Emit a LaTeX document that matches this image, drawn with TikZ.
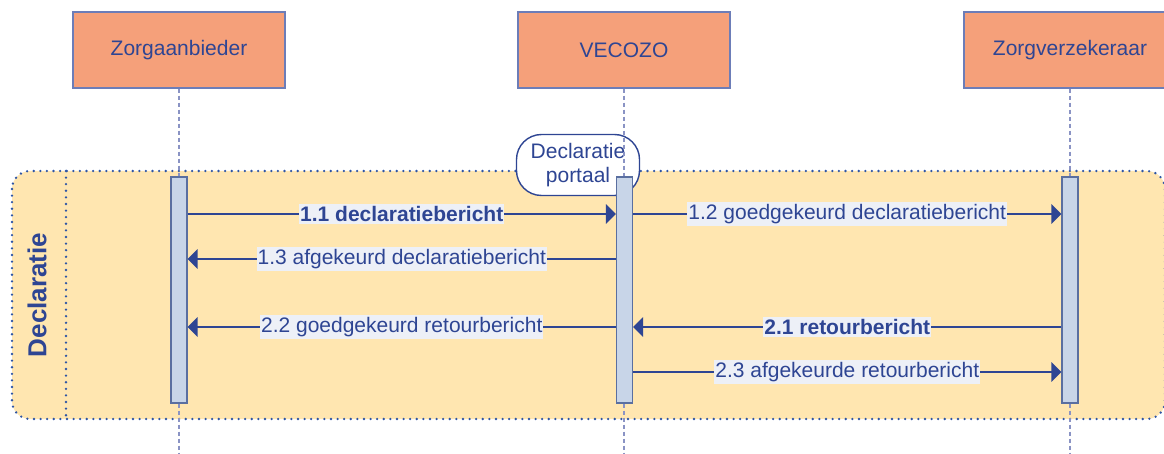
\documentclass[tikz,border=0pt]{standalone}
\usepackage{fontspec}
\setmainfont{Liberation Sans}
\usetikzlibrary{arrows.meta,positioning,calc}
\definecolor{vzblue}{HTML}{2E4593}
\definecolor{salmon}{HTML}{F5A07A}
\definecolor{actorline}{HTML}{6C7DB8}
\definecolor{phasefill}{HTML}{FFE6B0}
\definecolor{dotblue}{HTML}{2E55A5}
\definecolor{barfill}{HTML}{C8D5E8}
\definecolor{barline}{HTML}{5A6FA0}
\definecolor{lblfill}{HTML}{EDF0F7}
\definecolor{lifeline}{HTML}{8A93C4}

\begin{document}
\begin{tikzpicture}[x=1pt,y=-1pt,
  actor/.style={draw=actorline,fill=salmon,line width=1.1pt,minimum width=212pt,
    minimum height=76pt,inner sep=0pt,text=vzblue,font=\fontsize{21}{24}\selectfont},
  lifeln/.style={draw=lifeline,line width=1.5pt,dash pattern=on 4pt off 3pt},
  actbar/.style={draw=barline,fill=barfill,line width=1.1pt,minimum width=16pt,
    minimum height=226pt,inner sep=0pt},
  dots/.style={draw=dotblue,line width=2.6pt,line cap=round,dash pattern=on 0pt off 6.6pt},
  msg/.style={draw=vzblue,line width=2.6pt,-{Triangle[length=10pt,width=19pt]}},
  msglbl/.style={fill=lblfill,text=vzblue,inner xsep=1pt,inner ysep=2.5pt,
    font=\fontsize{21}{24}\selectfont}
  ]
  \useasboundingbox (0,0) rectangle (1164,454);
  \clip (0,0) rectangle (1164,454);

  % fase Declaratie
  \draw[dots,fill=phasefill,rounded corners=18pt] (12,171) rectangle (1165,419);
  \draw[dots] (66,171) -- (66,419);
  \node[rotate=90,text=vzblue,font=\fontsize{26}{30}\selectfont\bfseries] (fase) at (37,295) {Declaratie};

  \node[actor] (za) at (179,50) {Zorgaanbieder};
  \node[actor] (vec) at (624,50) {VECOZO};
  \node[actor] (zv) at (1070,50) {Zorgverzekeraar};

  \node[draw=vzblue,fill=white,line width=1.4pt,rounded corners=25pt,minimum width=123pt,
    minimum height=61pt,align=center,text=vzblue,font=\fontsize{21}{24}\selectfont]
    (portaal) at (578,165) {Declaratie\\portaal};

  \coordinate (zaend) at (179,454);
  \coordinate (vecend) at (624,454);
  \coordinate (zvend) at (1070,454);
  \draw[lifeln] (za.south) -- (zaend);
  \draw[lifeln] (vec.south) -- (vecend);
  \draw[lifeln] (zv.south) -- (zvend);

  \node[actbar] (barza) at (179,290) {};
  \node[actbar] (barvec) at (624.5,290) {};
  \node[actbar] (barzv) at (1070,290) {};

  \coordinate (r1) at (0,214);
  \coordinate (r2) at (0,259);
  \coordinate (r3) at (0,327);
  \coordinate (r4) at (0,372);

  \draw[msg] (barza.east |- r1) -- node[msglbl,font=\fontsize{21}{24}\selectfont\bfseries] {1.1 declaratiebericht} (barvec.west |- r1);
  \draw[msg] (barvec.east |- r1) -- node[msglbl] {1.2 goedgekeurd declaratiebericht} (barzv.west |- r1);
  \draw[msg] (barvec.west |- r2) -- node[msglbl] {1.3 afgekeurd declaratiebericht} (barza.east |- r2);
  \draw[msg] (barzv.west |- r3) -- node[msglbl,font=\fontsize{21}{24}\selectfont\bfseries] {2.1 retourbericht} (barvec.east |- r3);
  \draw[msg] (barvec.west |- r3) -- node[msglbl] {2.2 goedgekeurd retourbericht} (barza.east |- r3);
  \draw[msg] (barvec.east |- r4) -- node[msglbl] {2.3 afgekeurde retourbericht} (barzv.west |- r4);
\end{tikzpicture}
\end{document}
